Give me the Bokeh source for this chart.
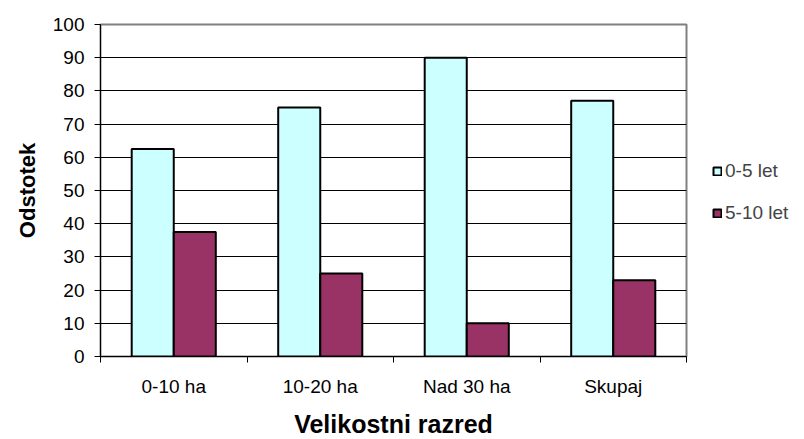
import numpy as np
from bokeh.plotting import figure
from bokeh.models import ColumnDataSource, FixedTicker, Range1d, Legend, LegendItem
from bokeh.embed import file_html
from bokeh.resources import INLINE

categories = ["0-10 ha", "10-20 ha", "Nad 30 ha", "Skupaj"]
series_names = ["0-5 let", "5-10 let"]
vals_0_5 = [62.5, 75, 90, 77]
vals_5_10 = [37.5, 25, 10, 23]
colors = ["#CCFFFF", "#993366"]
y_ticks = list(range(0, 101, 10))

FONT = "Liberation Sans"
idx = np.arange(len(categories))
bw = 0.287

p = figure(output_backend="svg", toolbar_location=None,
           frame_width=586, frame_height=332,
           min_border_left=100, min_border_top=24, min_border_bottom=83, min_border_right=118,
           x_range=Range1d(0, len(categories)), y_range=Range1d(0, 100))
p.background_fill_color = "white"
p.border_fill_color = "white"
p.outline_line_color = "#808080"
p.outline_line_width = 2

src1 = ColumnDataSource(dict(x=idx + 0.5 - bw / 2, top=vals_0_5))
src2 = ColumnDataSource(dict(x=idx + 0.5 + bw / 2, top=vals_5_10))
r1 = p.vbar(x="x", top="top", width=bw, source=src1, fill_color=colors[0], line_color="black", line_width=2)
r2 = p.vbar(x="x", top="top", width=bw, source=src2, fill_color=colors[1], line_color="black", line_width=2)

p.xgrid.grid_line_color = None
p.ygrid.grid_line_color = "black"
p.ygrid.grid_line_width = 1
p.ygrid.ticker = FixedTicker(ticks=y_ticks)

p.yaxis.ticker = FixedTicker(ticks=y_ticks)
p.yaxis.axis_line_color = "black"
p.yaxis.major_tick_line_color = "black"
p.yaxis.major_tick_out = 6
p.yaxis.major_tick_in = 0
p.yaxis.minor_tick_line_color = None
p.yaxis.major_label_text_font = FONT
p.yaxis.major_label_text_font_size = "19px"
p.yaxis.major_label_text_color = "black"
p.yaxis.major_label_standoff = 10
p.yaxis.axis_label = "Odstotek"
p.yaxis.axis_label_text_font = FONT
p.yaxis.axis_label_text_font_size = "22px"
p.yaxis.axis_label_text_font_style = "bold"
p.yaxis.axis_label_text_color = "black"
p.yaxis.axis_label_standoff = 10

centers = [float(i) + 0.5 for i in idx]
p.xaxis.ticker = FixedTicker(ticks=centers, minor_ticks=[float(i) for i in range(len(categories) + 1)])
p.xaxis.major_label_overrides = {c: lab for c, lab in zip(centers, categories)}
p.xaxis.major_tick_line_color = None
p.xaxis.minor_tick_line_color = "black"
p.xaxis.minor_tick_out = 6
p.xaxis.minor_tick_in = 0
p.xaxis.axis_line_color = "black"
p.xaxis.major_label_text_font = FONT
p.xaxis.major_label_text_font_size = "19px"
p.xaxis.major_label_text_color = "black"
p.xaxis.major_label_standoff = 13
p.xaxis.axis_label = "Velikostni razred"
p.xaxis.axis_label_text_font = FONT
p.xaxis.axis_label_text_font_size = "25px"
p.xaxis.axis_label_text_font_style = "bold"
p.xaxis.axis_label_text_color = "black"
p.xaxis.axis_label_standoff = 10

legend = Legend(items=[LegendItem(label=series_names[0], renderers=[r1]),
                       LegendItem(label=series_names[1], renderers=[r2])],
                location=(26, 132), border_line_color=None, background_fill_alpha=0,
                glyph_width=10, glyph_height=10, label_standoff=3, spacing=20,
                label_text_font=FONT, label_text_font_size="19px", label_height=20,
                padding=4, margin=0)
p.add_layout(legend, "right")

open("out.html", "w").write(file_html(p, INLINE))
